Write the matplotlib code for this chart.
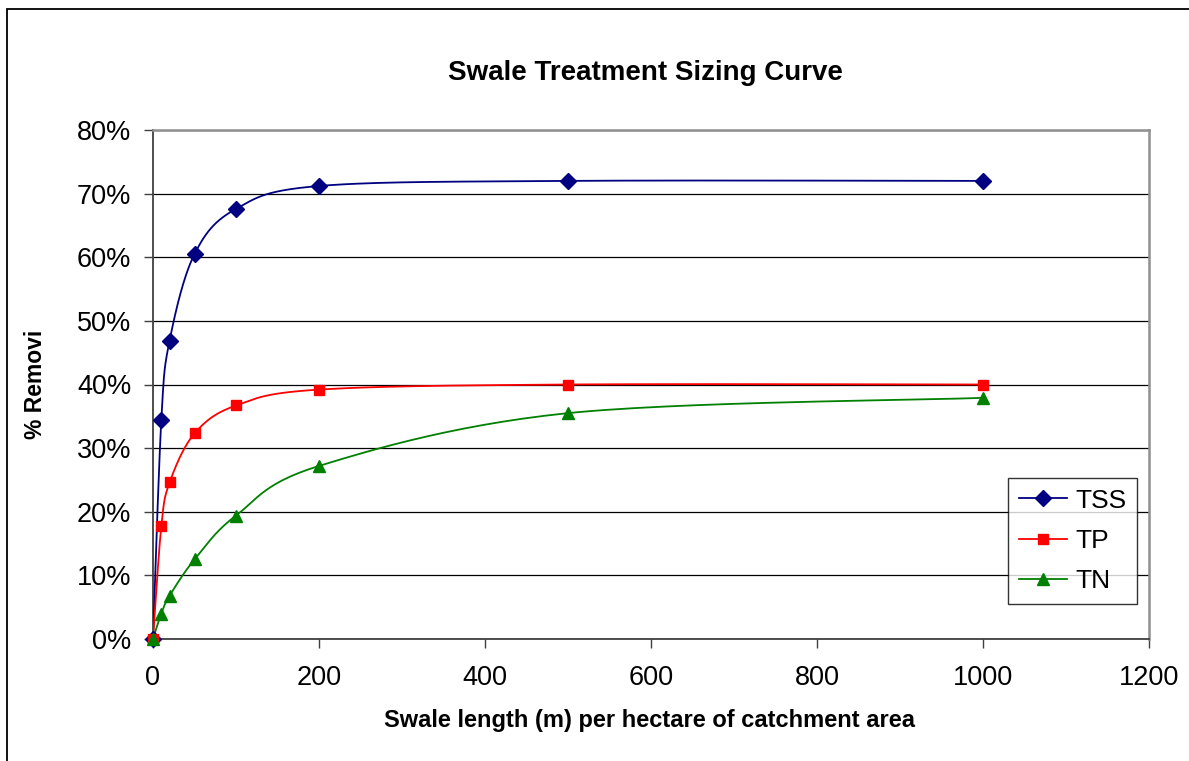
import numpy as np
import matplotlib
matplotlib.use("Agg")
import matplotlib.pyplot as plt
from matplotlib.patches import Rectangle

plt.rcParams['font.family'] = ['Liberation Sans', 'DejaVu Sans']

length = [0, 10, 20, 50, 100, 200, 500, 1000]
tss = [0.0, 34.4, 46.9, 60.5, 67.6, 71.2, 72.0, 72.0]
tp = [0.0, 17.7, 24.6, 32.3, 36.7, 39.2, 40.0, 40.0]
tn = [0.0, 4.0, 6.8, 12.5, 19.4, 27.2, 35.5, 37.9]
y_ticks = [0, 10, 20, 30, 40, 50, 60, 70, 80]
x_ticks = [0, 200, 400, 600, 800, 1000, 1200]

W, H = 1189, 761
fig = plt.figure(figsize=(W / 100, H / 100), dpi=100)
L, R, T, B = 153, 1149, 130, 639
ax = fig.add_axes([L / W, 1 - B / H, (R - L) / W, (B - T) / H])
ax.set_xlim(0, 1200)
ax.set_ylim(0, 80)

# outer chart frame (right and bottom edges lie outside the image)
fig.patches.append(Rectangle((7 / W, -0.05), 1.1, 1.05 - 9 / H,
                             transform=fig.transFigure, fill=False,
                             edgecolor='black', linewidth=1.3))


def smooth(xs, ys, n=30):
    # Bezier smoothing in display space (Excel "smoothed line" look)
    pts = ax.transData.transform(np.column_stack([xs, ys]))
    out = []
    P = np.vstack([pts[0], pts, pts[-1]])
    for i in range(1, len(P) - 2):
        p0, p1, p2, p3 = P[i - 1], P[i], P[i + 1], P[i + 2]
        c1 = p1 + (p2 - p0) / 6.0
        c2 = p2 - (p3 - p1) / 6.0
        t = np.linspace(0, 1, n)[:, None]
        seg = ((1 - t) ** 3) * p1 + 3 * ((1 - t) ** 2) * t * c1 + 3 * (1 - t) * t ** 2 * c2 + t ** 3 * p2
        out.append(seg if i == 1 else seg[1:])
    out = np.vstack(out)
    d = ax.transData.inverted().transform(out)
    return d[:, 0], d[:, 1]


series = [("TSS", tss, '#000080', 'D', 8),
          ("TP", tp, '#FF0000', 's', 7.5),
          ("TN", tn, '#008000', '^', 9)]
handles = []
for name, vals, col, mk, ms in series:
    sx, sy = smooth(length, vals)
    ax.plot(sx, sy, color=col, lw=1.3, zorder=3)
    ax.plot(length, vals, linestyle='none', marker=mk, color=col, ms=ms, zorder=4, clip_on=False)
    h, = ax.plot([], [], color=col, lw=1.3, marker=mk, ms=ms)
    h.set_label(name)
    handles.append(h)

ax.set_yticks(y_ticks)
ax.set_yticklabels([f"{v}%" for v in y_ticks], fontsize=19.5)
ax.set_xticks(x_ticks)
ax.set_xticklabels([str(v) for v in x_ticks], fontsize=19.5)
ax.grid(axis='y', color='black', lw=0.9)
ax.set_axisbelow(True)
ax.tick_params(axis='y', direction='out', length=6.5, width=1, color='#404040', pad=9)
ax.tick_params(axis='x', direction='out', length=6.5, width=1, color='#404040', pad=12)
for s in ['top', 'right']:
    ax.spines[s].set_color('#909090')
    ax.spines[s].set_linewidth(1.8)
for s in ['left', 'bottom']:
    ax.spines[s].set_color('#404040')
    ax.spines[s].set_linewidth(1.3)

fig.text(645 / W, 1 - 73 / H, "Swale Treatment Sizing Curve", ha='center', va='center',
         fontsize=20, fontweight='bold')
fig.text(650 / W, 1 - 720 / H, "Swale length (m) per hectare of catchment area", ha='center',
         va='center', fontsize=17, fontweight='bold')
fig.text(35 / W, 1 - 384 / H, "% Removi", ha='center', va='center', rotation=90,
         fontsize=16.5, fontweight='bold')

leg = ax.legend(handles=handles, loc='upper left', bbox_to_anchor=((1008 - L) / (R - L), (B - 478) / (B - T)),
                fontsize=19, frameon=True, fancybox=False, borderpad=0.4, labelspacing=0.62,
                handlelength=1.85, handletextpad=0.3, borderaxespad=0)
leg.get_frame().set_edgecolor('black')
leg.get_frame().set_linewidth(1)

fig.savefig("out.png", dpi=100)
